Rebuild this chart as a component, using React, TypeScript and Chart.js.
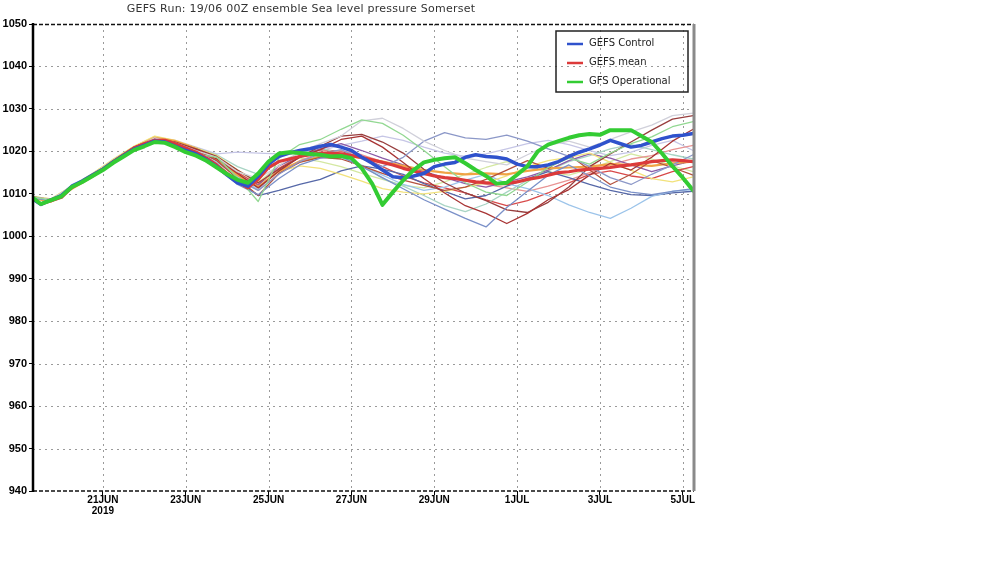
import React, { useEffect, useRef } from "react";
import { Chart, registerables } from "chart.js";

Chart.register(...registerables);

const TITLE = "GEFS Run: 19/06 00Z ensemble Sea level pressure Somerset";

// forecast hours since 19/06 00Z
const hours6 = [
  6, 12, 18, 24, 30, 36, 42, 48, 54, 60, 66, 72, 78, 84, 90, 96, 102, 108, 114, 120,
  126, 132, 138, 144, 150, 156, 162, 168, 174, 180, 186, 192, 198, 204, 210, 216, 222, 228, 234, 240,
  246, 252, 258, 264, 270, 276, 282, 288, 294, 300, 306, 312, 318, 324, 330, 336, 342, 348, 354, 360,
  366, 372, 378, 384, 390,
];
const hours12 = [
  6, 18, 30, 42, 54, 66, 78, 90, 102, 114, 126, 138, 150, 162, 174, 186, 198, 210, 222, 234,
  246, 258, 270, 282, 294, 306, 318, 330, 342, 354, 366, 378, 390,
];

const tickHours = [48, 96, 144, 192, 240, 288, 336, 384];
const tickLabels = [["21JUN", "2019"], "23JUN", "25JUN", "27JUN", "29JUN", "1JUL", "3JUL", "5JUL"];

const legendNames = ["GEFS Control", "GEFS mean", "GFS Operational"];

const gfsOperational = [
  1009.5, 1007.6, 1008.5, 1009.4, 1011.6, 1012.8, 1014.2, 1015.6, 1017.3, 1018.8,
  1020.3, 1021.2, 1022.2, 1022.0, 1021.0, 1019.8, 1019.0, 1017.8, 1016.2, 1014.6,
  1013.3, 1012.6, 1014.8, 1017.6, 1019.5, 1019.8, 1019.6, 1019.4, 1019.2, 1018.8,
  1018.9, 1018.4, 1016.0, 1012.4, 1007.4, 1010.4, 1013.2, 1015.6, 1017.4, 1018.0,
  1018.4, 1018.6, 1017.2, 1015.6, 1014.2, 1012.4, 1012.6, 1014.5, 1016.5, 1020.0,
  1021.6, 1022.4, 1023.2, 1023.8, 1024.1, 1023.9, 1025.0, 1025.0, 1025.0, 1023.6,
  1022.2, 1019.5, 1016.5, 1013.8, 1010.8,
];

const gefsControl = [
  1009.2, 1007.5, 1008.6, 1009.6, 1011.8, 1013.0, 1014.4, 1015.8, 1017.5, 1019.0,
  1020.5, 1021.4, 1022.4, 1022.2, 1021.2, 1020.2, 1019.4, 1018.0, 1016.4, 1014.4,
  1012.6, 1011.8, 1014.2, 1017.0, 1018.8, 1019.6, 1020.2, 1020.6, 1021.2, 1021.6,
  1021.0, 1020.2, 1018.6, 1017.2, 1015.6, 1014.0, 1013.8, 1014.2, 1014.8, 1016.4,
  1017.0, 1017.4, 1018.6, 1019.2, 1018.8, 1018.6, 1018.2, 1017.0, 1016.4, 1016.4,
  1016.8, 1017.6, 1018.8, 1019.8, 1020.6, 1021.5, 1022.6, 1021.8, 1021.0, 1021.4,
  1022.2, 1023.0, 1023.6, 1023.8, 1024.2,
];

const gefsMean = [
  1009.2, 1007.6, 1008.4, 1009.2, 1011.5, 1012.9, 1014.4, 1015.8, 1017.6, 1019.2,
  1020.8, 1021.8, 1022.6, 1022.6, 1021.8, 1020.8, 1019.8, 1018.4, 1016.8, 1014.8,
  1012.8, 1011.4, 1013.4, 1016.2, 1017.6, 1018.2, 1018.8, 1019.2, 1019.6, 1019.6,
  1019.4, 1019.0, 1018.6, 1018.0, 1017.4, 1016.8, 1016.0, 1015.4, 1014.8, 1014.2,
  1013.8, 1013.6, 1013.2, 1012.8, 1012.6, 1012.4, 1012.4, 1012.8, 1013.4, 1013.8,
  1014.4, 1015.0, 1015.2, 1015.6, 1015.8, 1016.0, 1016.2, 1016.6, 1016.8, 1017.2,
  1017.6, 1017.8, 1018.0, 1017.8, 1017.6,
];

// ensemble members (12-hourly)
const member01 = [1009.4,1008.5,1011.5,1014.4,1017.6,1020.4,1022.4,1021.2,1019.4,1018.6,1013.8,1008.2,1018.4,1021.6,1022.8,1025.2,1027.4,1026.6,1023.8,1020.2,1016.4,1012.6,1010.4,1009.6,1012.8,1016.2,1018.4,1017.0,1019.6,1021.8,1023.4,1025.8,1027.0];
const member02 = [1009.3,1008.7,1011.7,1014.6,1017.8,1020.8,1023.2,1022.0,1020.2,1018.6,1015.2,1013.6,1016.6,1019.8,1021.8,1023.6,1027.2,1027.8,1025.4,1022.4,1020.2,1018.4,1017.6,1016.8,1019.2,1021.4,1022.4,1021.0,1022.8,1024.6,1026.2,1028.4,1029.0];
const member03 = [1009.2,1008.5,1011.4,1014.2,1017.4,1020.6,1022.8,1021.6,1019.2,1016.6,1013.2,1010.8,1014.6,1017.6,1019.4,1020.4,1018.2,1016.4,1018.6,1022.4,1024.4,1023.2,1022.8,1023.8,1022.4,1020.6,1018.8,1016.4,1013.8,1012.2,1014.6,1016.8,1019.2];
const member04 = [1009.1,1008.4,1011.3,1014.0,1017.2,1020.2,1022.6,1021.4,1018.8,1016.2,1012.2,1009.8,1013.6,1016.8,1018.4,1018.8,1016.4,1013.8,1011.2,1008.6,1006.4,1004.2,1002.2,1006.8,1010.6,1014.4,1016.8,1014.2,1011.6,1010.4,1009.8,1010.6,1011.2];
const member05 = [1009.4,1008.6,1011.6,1014.4,1017.6,1020.6,1022.6,1021.8,1020.4,1018.2,1014.8,1011.4,1015.4,1018.6,1020.4,1022.8,1023.6,1021.0,1017.4,1013.6,1010.2,1007.2,1005.4,1003.0,1005.4,1008.6,1011.0,1014.4,1017.2,1015.6,1018.6,1022.4,1025.2];
const member06 = [1009.2,1008.6,1011.4,1014.4,1017.8,1021.0,1023.0,1022.2,1020.6,1018.8,1015.6,1012.6,1015.8,1018.6,1021.2,1023.6,1024.0,1022.2,1019.6,1015.8,1012.6,1010.2,1008.4,1006.2,1005.6,1008.0,1011.6,1016.4,1019.4,1022.2,1025.0,1027.6,1028.4];
const member07 = [1009.3,1008.5,1011.5,1014.3,1017.7,1020.7,1022.6,1022.0,1020.4,1017.8,1013.6,1009.6,1014.8,1017.4,1018.6,1018.2,1016.6,1014.8,1013.2,1012.0,1010.8,1011.6,1013.4,1015.6,1017.8,1016.0,1019.2,1015.6,1012.2,1014.6,1017.8,1016.2,1014.4];
const member08 = [1009.0,1008.2,1011.2,1014.0,1017.4,1020.8,1023.2,1022.4,1020.6,1018.2,1014.4,1011.6,1015.4,1017.6,1018.8,1019.2,1018.4,1017.6,1016.6,1015.6,1015.0,1014.6,1014.8,1014.6,1015.4,1016.0,1016.2,1016.4,1017.0,1016.8,1016.6,1017.2,1017.6];
const member09 = [1009.4,1008.8,1011.8,1014.8,1018.0,1021.2,1023.6,1022.6,1020.8,1019.0,1015.6,1012.8,1015.2,1016.6,1016.0,1014.6,1013.0,1011.2,1010.4,1010.0,1010.6,1011.6,1012.6,1014.2,1016.4,1017.8,1018.6,1019.6,1017.4,1015.6,1013.6,1012.8,1014.0];
const member10 = [1009.2,1008.4,1011.4,1014.2,1017.6,1020.6,1022.8,1022.0,1020.0,1017.4,1014.0,1011.0,1015.6,1018.6,1019.6,1018.6,1016.6,1014.4,1012.2,1010.8,1011.6,1013.2,1014.6,1012.4,1011.2,1009.6,1007.4,1005.6,1004.2,1006.6,1009.4,1010.6,1011.0];
const member11 = [1009.3,1008.6,1011.6,1014.5,1017.8,1020.8,1022.8,1021.8,1020.2,1017.8,1014.4,1012.0,1016.6,1019.0,1020.6,1021.8,1020.2,1018.4,1016.8,1015.2,1013.8,1012.4,1011.6,1012.8,1014.0,1015.6,1017.8,1019.4,1018.4,1016.8,1015.2,1016.6,1017.8];
const member12 = [1009.1,1008.4,1011.3,1014.2,1017.4,1020.4,1022.4,1021.6,1019.6,1016.6,1013.0,1009.6,1010.8,1012.2,1013.4,1015.4,1016.6,1015.8,1014.6,1012.4,1010.6,1008.8,1009.6,1011.8,1013.6,1015.2,1013.8,1012.2,1010.8,1009.8,1009.6,1010.2,1010.6];
const member13 = [1009.4,1008.7,1011.7,1014.6,1017.9,1021.0,1023.0,1022.2,1020.8,1019.2,1016.4,1014.6,1017.4,1019.6,1020.8,1019.4,1016.8,1013.6,1011.8,1009.6,1007.2,1005.8,1007.6,1010.4,1013.2,1015.4,1017.6,1019.0,1020.6,1021.6,1020.4,1019.2,1018.2];
const member14 = [1009.2,1008.5,1011.5,1014.4,1017.6,1020.8,1023.0,1022.0,1020.2,1018.0,1014.2,1010.8,1014.8,1017.8,1019.6,1020.2,1019.2,1017.6,1016.2,1014.6,1013.8,1013.0,1012.2,1011.4,1010.6,1011.8,1013.2,1015.0,1016.8,1018.2,1019.0,1020.4,1021.4];
const member15 = [1009.3,1008.4,1011.4,1014.2,1017.6,1020.6,1022.8,1022.4,1020.8,1018.6,1015.0,1012.2,1016.0,1018.8,1020.4,1020.0,1018.6,1016.4,1014.2,1012.6,1011.4,1010.2,1008.6,1007.2,1008.4,1010.2,1012.6,1014.6,1015.4,1014.2,1013.6,1015.2,1016.4];
const member16 = [1009.2,1008.6,1011.6,1014.6,1017.8,1021.0,1023.4,1022.6,1021.0,1019.4,1019.8,1019.6,1019.4,1019.8,1020.2,1021.4,1022.4,1023.6,1022.6,1021.0,1019.6,1018.8,1019.4,1020.6,1021.8,1022.6,1021.6,1020.2,1019.0,1019.8,1021.4,1022.6,1020.2];
const member17 = [1009.4,1008.8,1011.8,1014.8,1018.2,1021.2,1023.4,1022.4,1020.4,1018.6,1015.4,1012.6,1016.8,1018.4,1017.6,1016.4,1014.8,1013.4,1012.0,1011.4,1012.8,1014.6,1016.2,1017.6,1016.4,1015.2,1014.4,1015.8,1017.6,1019.4,1018.2,1016.6,1015.2];

const members = [
  member01, member02, member03, member04, member05, member06, member07, member08, member09,
  member10, member11, member12, member13, member14, member15, member16, member17,
];
const memberColors = [
  "#92d892", "#d0d0da", "#8c98c8", "#7a90c8", "#a83434", "#983e3e", "#b4523e", "#f0a446", "#f2e27c",
  "#9cc4ea", "#8c5ca8", "#5668a8", "#a8d4c4", "#e89494", "#d84a4a", "#c6c6e6", "#d4e8a2",
];
const memberWidths = [1.3, 1.3, 1.3, 1.3, 1.3, 1.3, 1.3, 2.2, 1.3, 1.3, 1.3, 1.3, 1.3, 1.3, 1.3, 1.3, 1.3];

const mainColors = ["#2f52cc", "#dc3a3a", "#33cc33"];

const toPoints = (hrs: number[], vals: number[]) => vals.map((v, i) => ({ x: hrs[i], y: v }));

const framePlugin = {
  id: "gefsFrame",
  beforeDatasetsDraw(chart: any) {
    const { ctx, chartArea, scales } = chart;
    const { left, right, top, bottom } = chartArea;
    const y = scales.y;
    const x = scales.x;
    ctx.save();
    ctx.strokeStyle = "#9a9a9a";
    ctx.lineWidth = 1;
    ctx.setLineDash([2, 4]);
    y.ticks.forEach((t: any) => {
      if (t.value === y.min || t.value === y.max) return;
      const py = Math.round(y.getPixelForValue(t.value)) + 0.5;
      ctx.beginPath();
      ctx.moveTo(left, py);
      ctx.lineTo(right, py);
      ctx.stroke();
    });
    x.ticks.forEach((t: any) => {
      const px = Math.round(x.getPixelForValue(t.value)) + 0.5;
      ctx.beginPath();
      ctx.moveTo(px, top);
      ctx.lineTo(px, bottom);
      ctx.stroke();
    });
    ctx.restore();
  },
  afterDatasetsDraw(chart: any) {
    const { ctx, chartArea } = chart;
    const { left, right, top, bottom } = chartArea;
    ctx.save();
    // top & bottom dashed borders
    ctx.strokeStyle = "#111";
    ctx.lineWidth = 1.5;
    ctx.setLineDash([4, 2]);
    ctx.beginPath();
    ctx.moveTo(left, top + 0.5);
    ctx.lineTo(right, top + 0.5);
    ctx.moveTo(left, bottom);
    ctx.lineTo(right, bottom);
    ctx.stroke();
    ctx.setLineDash([]);
    // right border (grey)
    ctx.strokeStyle = "#8a8a8a";
    ctx.lineWidth = 3;
    ctx.beginPath();
    ctx.moveTo(right, top);
    ctx.lineTo(right, bottom);
    ctx.stroke();
    // left axis
    ctx.strokeStyle = "#000";
    ctx.lineWidth = 2.5;
    ctx.beginPath();
    ctx.moveTo(left, top - 1);
    ctx.lineTo(left, bottom + 1);
    ctx.stroke();

    // legend box
    ctx.strokeStyle = "#222";
    ctx.lineWidth = 1.5;
    ctx.strokeRect(556, 31, 132, 61);
    const rows = [44, 63, 82];
    ctx.font = '10px "DejaVu Sans"';
    ctx.textBaseline = "middle";
    ctx.textAlign = "left";
    rows.forEach((ry, i) => {
      ctx.strokeStyle = mainColors[i];
      ctx.lineWidth = 2.5;
      ctx.beginPath();
      ctx.moveTo(567, ry);
      ctx.lineTo(583, ry);
      ctx.stroke();
      ctx.fillStyle = "#222";
      ctx.fillText(legendNames[i], 589, ry - 1);
    });

    // title
    ctx.font = '11px "DejaVu Sans"';
    ctx.fillStyle = "#333";
    ctx.textAlign = "center";
    ctx.textBaseline = "middle";
    const w = ctx.measureText(TITLE).width;
    const extra = (348 - w) / (TITLE.length - 1);
    if ("letterSpacing" in ctx && extra > 0) {
      (ctx as any).letterSpacing = extra.toFixed(2) + "px";
    }
    ctx.fillText(TITLE, 301, 9);
    ctx.restore();
  },
};

export default function App() {
  const canvasRef = useRef<HTMLCanvasElement | null>(null);

  useEffect(() => {
    if (!canvasRef.current) return;
    const datasets: any[] = [];
    members.forEach((m, i) => {
      datasets.push({
        label: "member " + (i + 1),
        data: toPoints(hours12, m),
        borderColor: memberColors[i],
        borderWidth: memberWidths[i],
        order: 10,
      });
    });
    datasets.push({
      label: legendNames[1],
      data: toPoints(hours6, gefsMean),
      borderColor: mainColors[1],
      borderWidth: 3.2,
      order: 3,
    });
    datasets.push({
      label: legendNames[0],
      data: toPoints(hours6, gefsControl),
      borderColor: mainColors[0],
      borderWidth: 3.5,
      order: 2,
    });
    datasets.push({
      label: legendNames[2],
      data: toPoints(hours6, gfsOperational),
      borderColor: mainColors[2],
      borderWidth: 4,
      order: 1,
    });

    const tickFont = { family: '"Liberation Sans", Arial, sans-serif', size: 10, weight: "bold" as const, lineHeight: 1.1 };

    const chart = new Chart(canvasRef.current, {
      type: "line",
      data: { datasets },
      options: {
        responsive: false,
        animation: false,
        events: [],
        layout: { padding: { left: 0, top: 24, right: 306, bottom: 32 } },
        elements: { point: { radius: 0 }, line: { tension: 0, borderJoinStyle: "round", borderCapStyle: "round" } },
        plugins: { legend: { display: false }, tooltip: { enabled: false }, title: { display: false } },
        scales: {
          x: {
            type: "linear",
            min: 7.5,
            max: 390.5,
            afterBuildTicks: (s: any) => {
              s.ticks = tickHours.map((v) => ({ value: v }));
            },
            afterFit: (s: any) => {
              s.height = 40;
            },
            ticks: {
              autoSkip: false,
              maxRotation: 0,
              padding: 0,
              color: "#000",
              font: tickFont,
              callback: (v: any) => {
                const idx = tickHours.indexOf(Number(v));
                return idx >= 0 ? (tickLabels[idx] as any) : "";
              },
            },
            grid: { drawOnChartArea: false, drawTicks: true, tickLength: 4, tickColor: "#000", color: "#000" },
            border: { display: false },
          },
          y: {
            min: 940,
            max: 1050,
            afterFit: (s: any) => {
              s.width = 33;
            },
            ticks: {
              stepSize: 10,
              padding: 2,
              color: "#000",
              font: { ...tickFont, size: 11 },
              callback: (v: any) => String(v),
            },
            grid: { drawOnChartArea: false, drawTicks: true, tickLength: 4, tickColor: "#000", color: "#000" },
            border: { display: false },
          },
        },
      },
      plugins: [framePlugin],
    });
    return () => chart.destroy();
  }, []);

  return (
    <div style={{ position: "absolute", left: 0, top: 0, width: 1000, height: 563, background: "#fff" }}>
      <canvas ref={canvasRef} width={1000} height={563} style={{ display: "block" }} />
    </div>
  );
}
